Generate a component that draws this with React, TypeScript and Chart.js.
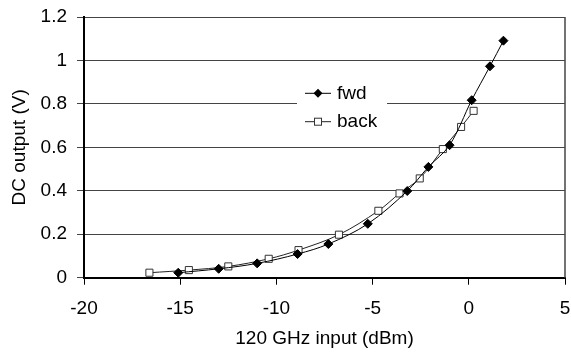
import React, { useEffect, useRef } from "react";
import { Chart, registerables } from "chart.js";

Chart.register(...registerables);

const fwdX = [-15.1, -13.0, -11.0, -8.9, -7.3, -5.25, -3.2, -2.1, -1.0, 0.15, 1.1, 1.8];
const fwdY = [0.023, 0.041, 0.066, 0.109, 0.155, 0.248, 0.399, 0.51, 0.61, 0.817, 0.973, 1.091];
const backX = [-16.6, -14.55, -12.5, -10.4, -8.85, -6.75, -4.7, -3.6, -2.55, -1.35, -0.4, 0.25];
const backY = [0.023, 0.035, 0.052, 0.087, 0.127, 0.198, 0.308, 0.388, 0.457, 0.592, 0.694, 0.768];
const seriesLabels = ["fwd", "back"];
const xTitle = "120 GHz input (dBm)";
const yTitle = "DC output (V)";

const FONT = "'Liberation Sans', Arial, sans-serif";

const frameAndLegend = {
  id: "frameAndLegend",
  beforeDatasetsDraw(chart: any) {
    const ctx = chart.ctx;
    const ca = chart.chartArea;
    ctx.save();
    // right border
    ctx.strokeStyle = "#444";
    ctx.lineWidth = 1.5;
    ctx.beginPath();
    ctx.moveTo(ca.right, ca.top);
    ctx.lineTo(ca.right, ca.bottom);
    ctx.stroke();
    // legend box (white, covers gridline)
    const bx = 297, by = 75, bw = 90, bh = 62;
    ctx.fillStyle = "#fff";
    ctx.fillRect(bx, by, bw, bh);
    const rows = [93.3, 121.7];
    chart.data.datasets.forEach((ds: any, i: number) => {
      const y = rows[i];
      ctx.strokeStyle = ds.borderColor;
      ctx.lineWidth = 1;
      ctx.beginPath();
      ctx.moveTo(305, y);
      ctx.lineTo(331, y);
      ctx.stroke();
      const cx = 318;
      if (i === 0) {
        ctx.fillStyle = "#000";
        ctx.beginPath();
        ctx.moveTo(cx, y - 4.5);
        ctx.lineTo(cx + 4.5, y);
        ctx.lineTo(cx, y + 4.5);
        ctx.lineTo(cx - 4.5, y);
        ctx.closePath();
        ctx.fill();
      } else {
        ctx.fillStyle = "#fff";
        ctx.strokeStyle = "#333";
        ctx.fillRect(cx - 3.5, y - 3.5, 7, 7);
        ctx.strokeRect(cx - 3.5, y - 3.5, 7, 7);
      }
      ctx.fillStyle = "#000";
      ctx.font = `19px ${FONT}`;
      ctx.textBaseline = "middle";
      ctx.textAlign = "left";
      ctx.fillText(ds.label, 337, y);
    });
    ctx.restore();
  },
};

export default function App() {
  const ref = useRef<HTMLCanvasElement>(null);
  useEffect(() => {
    if (!ref.current) return;
    const chart = new Chart(ref.current, {
      type: "line",
      data: {
        datasets: [
          {
            label: seriesLabels[0],
            data: fwdX.map((x, i) => ({ x, y: fwdY[i] })),
            borderColor: "#000",
            backgroundColor: "#000",
            borderWidth: 1,
            pointStyle: "rectRot",
            pointRadius: 4.5,
            pointBackgroundColor: "#000",
            pointBorderColor: "#000",
            pointBorderWidth: 1,
            tension: 0.35,
          },
          {
            label: seriesLabels[1],
            data: backX.map((x, i) => ({ x, y: backY[i] })),
            borderColor: "#222",
            backgroundColor: "#fff",
            borderWidth: 1,
            pointStyle: "rect",
            pointRadius: 5,
            pointBackgroundColor: "#fff",
            pointBorderColor: "#333",
            pointBorderWidth: 1,
            tension: 0.35,
          },
        ],
      },
      options: {
        responsive: false,
        animation: false,
        layout: { padding: { top: 17, right: 5, left: 0, bottom: 0 } },
        plugins: { legend: { display: false }, tooltip: { enabled: false } },
        scales: {
          x: {
            type: "linear",
            min: -20,
            max: 5,
            ticks: {
              stepSize: 5,
              color: "#000",
              font: { family: FONT, size: 19 },
              padding: 13,
              maxRotation: 0,
            },
            grid: {
              drawOnChartArea: false,
              drawTicks: true,
              tickLength: 7,
              color: "#000",
              lineWidth: 1,
            },
            border: { display: true, color: "#000", width: 2 },
            title: {
              display: true,
              text: xTitle,
              color: "#000",
              font: { family: FONT, size: 19 },
              padding: { top: 0, bottom: 2 },
            },
            afterFit: (s: any) => {
              s.height = 74.3;
              s.paddingLeft = 0;
              s.paddingRight = 0;
            },
          },
          y: {
            type: "linear",
            min: 0,
            max: 1.2,
            ticks: {
              stepSize: 0.2,
              color: "#000",
              font: { family: FONT, size: 19 },
              padding: 10,
              callback: (v: any) => String(Number(Number(v).toFixed(1))),
            },
            grid: {
              drawTicks: true,
              tickLength: 7,
              color: "#444",
              lineWidth: 1,
            },
            border: { display: true, color: "#000", width: 2 },
            title: {
              display: true,
              text: yTitle,
              color: "#000",
              font: { family: FONT, size: 19 },
              padding: { top: 8, bottom: 0 },
            },
            afterFit: (s: any) => {
              s.width = 84;
              s.paddingTop = 0;
              s.paddingBottom = 0;
            },
          },
        },
      },
      plugins: [frameAndLegend],
    });
    return () => chart.destroy();
  }, []);
  return (
    <div style={{ position: "fixed", left: 0, top: 0, width: 571, height: 352, background: "#fff" }}>
      <canvas ref={ref} width={571} height={352} style={{ width: 571, height: 352 }} />
    </div>
  );
}
